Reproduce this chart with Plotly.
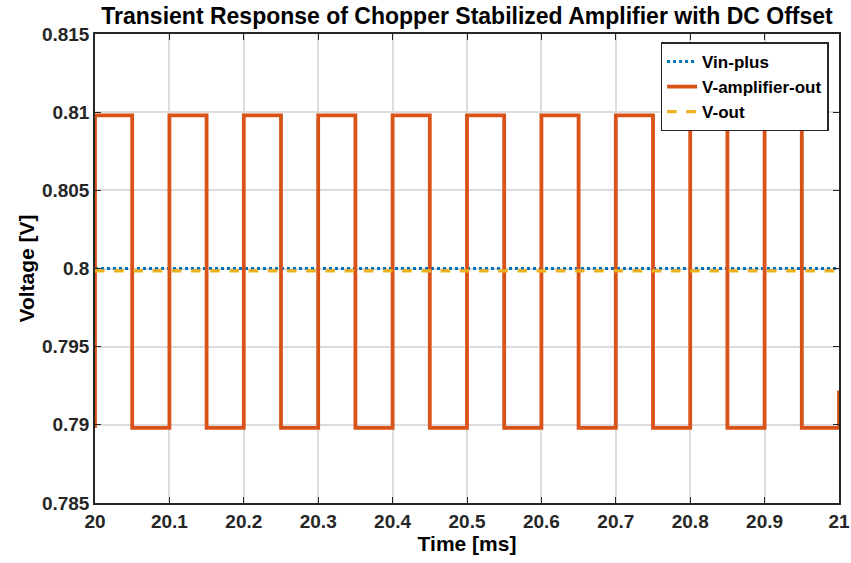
import plotly.graph_objects as go

# Chopped amplifier output: switching instants [ms] and the level held after each one [V]
amp_time = [20.0, 20.0, 20.05, 20.1, 20.15, 20.2, 20.25, 20.3, 20.35, 20.4, 20.45,
            20.5, 20.55, 20.6, 20.65, 20.7, 20.75, 20.8, 20.85, 20.9, 20.95, 21.0]
amp_volt = [0.7898, 0.8098, 0.7898, 0.8098, 0.7898, 0.8098, 0.7898, 0.8098, 0.7898,
            0.8098, 0.7898, 0.8098, 0.7898, 0.8098, 0.7898, 0.8098, 0.7898, 0.8098,
            0.7898, 0.8098, 0.7898, 0.7922]

# Input (with DC offset) and filtered output
vin_time = [20.0, 21.0]
vin_volt = [0.8, 0.8]
vout_time = [20.0, 21.0]
vout_volt = [0.79985, 0.79985]

x_ticks = [20.0, 20.1, 20.2, 20.3, 20.4, 20.5, 20.6, 20.7, 20.8, 20.9, 21.0]
x_tick_text = ["20", "20.1", "20.2", "20.3", "20.4", "20.5", "20.6", "20.7", "20.8", "20.9", "21"]
y_ticks = [0.785, 0.79, 0.795, 0.8, 0.805, 0.81, 0.815]
y_tick_text = ["0.785", "0.79", "0.795", "0.8", "0.805", "0.81", "0.815"]

FONT = "Liberation Sans, Arial, sans-serif"
AXIS_COLOR = "#262626"

fig = go.Figure()
fig.add_trace(go.Scatter(
    x=vin_time, y=vin_volt, mode="lines", name="Vin-plus",
    line=dict(color="#0072BD", width=3, dash="dot"),
))
fig.add_trace(go.Scatter(
    x=amp_time, y=amp_volt, mode="lines", name="V-amplifier-out",
    line=dict(color="#D95319", width=3.8, shape="hv"),
))
fig.add_trace(go.Scatter(
    x=vout_time, y=vout_volt, mode="lines", name="V-out",
    line=dict(color="#EDB120", width=3.2, dash="dash"),
))

axis_common = dict(
    showline=True, linecolor=AXIS_COLOR, linewidth=1.5, mirror="allticks",
    ticks="inside", ticklen=6, tickwidth=1.2, tickcolor=AXIS_COLOR,
    showgrid=True, gridcolor="#DCDCDC", gridwidth=1.5, zeroline=False,
    automargin=False,
    tickfont=dict(family=FONT, size=19, color="#262626"),
)

fig.update_xaxes(
    range=[20, 21], tickvals=x_ticks, ticktext=x_tick_text,
    title=dict(text="<b>Time [ms]</b>", font=dict(family=FONT, size=21, color="black"), standoff=4),
    **axis_common,
)
fig.update_yaxes(
    range=[0.785, 0.815], tickvals=y_ticks, ticktext=y_tick_text,
    title=dict(text="<b>Voltage [V]</b>", font=dict(family=FONT, size=21, color="black"), standoff=2),
    **axis_common,
)

fig.update_layout(
    width=851, height=563,
    margin=dict(l=95, r=12, t=34, b=60),
    paper_bgcolor="white", plot_bgcolor="white",
    font=dict(family=FONT, size=19, color="#262626", weight="bold"),
    title=dict(
        text="<b>Transient Response of Chopper Stabilized Amplifier with DC Offset</b>",
        font=dict(family=FONT, size=23, color="black"),
        x=0.5, xref="paper", xanchor="center", y=0.972, yanchor="middle",
    ),
    legend=dict(
        x=0.986, y=0.982, xanchor="right", yanchor="top",
        bgcolor="white", bordercolor=AXIS_COLOR, borderwidth=1.5,
        font=dict(family=FONT, size=17, color="black"),
        tracegroupgap=0, itemwidth=30,
    ),
    showlegend=True,
)

fig.write_html("out.html")
